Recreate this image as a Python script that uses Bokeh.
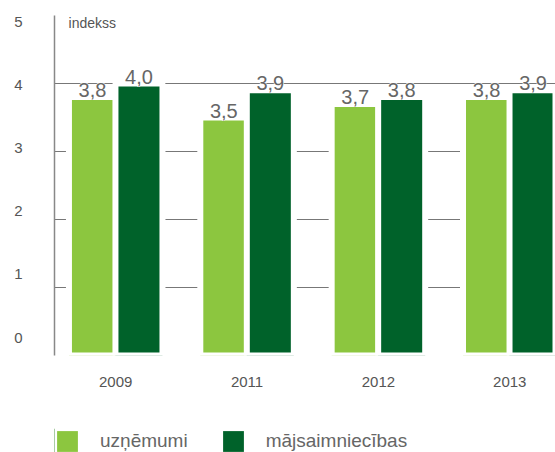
from bokeh.plotting import figure
from bokeh.layouts import column
from bokeh.models import (Range1d, LinearAxis, FixedTicker, Grid, ColumnDataSource,
                          Legend, LegendItem, Label)
from bokeh.transform import dodge
from bokeh.core.properties import value
from bokeh.embed import file_html
from bokeh.resources import INLINE

years = ["2009", "2011", "2012", "2013"]
uznemumi = [3.8, 3.5, 3.7, 3.8]
majsaimniecibas = [4.0, 3.9, 3.8, 3.9]
series_names = ["uzņēmumi", "mājsaimniecības"]
y_ticks = [0, 1, 2, 3, 4, 5]
grid_ticks = [1, 2, 3, 4]

LIGHT = "#8cc63f"
DARK = "#00622a"
TXT = "#555555"
VTXT = "#666666"
FONTNAME = "Liberation Sans"
FONT = value(FONTNAME)

def fmt(v):
    return f"{v:.1f}".replace(".", ",")

src = ColumnDataSource(dict(
    x=list(range(len(years))),
    u=uznemumi,
    m=majsaimniecibas,
    lu=[fmt(v) for v in uznemumi],
    lm=[fmt(v) for v in majsaimniecibas],
))

p = figure(width=555, height=400, x_range=Range1d(-0.466, 3.348), y_range=Range1d(0, 5),
           output_backend="svg", toolbar_location=None, y_axis_location=None,
           min_border_left=54, min_border_top=15, min_border_right=0, min_border_bottom=45)
p.outline_line_color = None
p.xgrid.visible = False
p.ygrid.visible = False
p.background_fill_color = "white"
p.border_fill_color = "white"

p.add_layout(Grid(dimension=1, ticker=FixedTicker(ticks=grid_ticks),
                  grid_line_color="#777777", grid_line_width=1))

p.extra_y_ranges = {"lbl": Range1d(-0.2857, 5.111)}
ax = LinearAxis(y_range_name="lbl", ticker=FixedTicker(ticks=y_ticks),
                major_tick_line_color=None, minor_tick_line_color=None,
                axis_line_color="#888888", axis_line_width=1.5,
                major_label_standoff=26, major_label_text_font_size="15px",
                major_label_text_color=TXT, major_label_text_font=FONTNAME)
p.add_layout(ax, "left")

xa = p.xaxis[0]
xa.ticker = FixedTicker(ticks=list(range(len(years))))
xa.major_label_overrides = {i: y for i, y in enumerate(years)}
xa.axis_line_color = None
xa.major_tick_line_color = None
xa.minor_tick_line_color = None
xa.major_label_standoff = 15
xa.major_label_text_font_size = "15px"
xa.major_label_text_color = TXT
xa.major_label_text_font = FONTNAME

off = 0.177
bw = 0.358
p.vbar(x=dodge("x", -off, range=p.x_range), top="u", bottom=0, width=bw, source=src,
       fill_color=LIGHT, line_color="white", line_width=6)
p.vbar(x=dodge("x", off, range=p.x_range), top="m", bottom=0, width=bw, source=src,
       fill_color=DARK, line_color="white", line_width=6)

for col, lab in (("u", "lu"), ("m", "lm")):
    xx = dodge("x", -off if col == "u" else off, range=p.x_range)
    p.text(x=xx, y=col, text=lab, source=src, text_align="center",
           text_baseline="alphabetic", y_offset=-7, text_font_size="20px",
           text_color="white", text_font=FONT, text_outline_color="white")
    p.text(x=xx, y=col, text=lab, source=src, text_align="center",
           text_baseline="alphabetic", y_offset=-7, text_font_size="20px",
           text_color=VTXT, text_font=FONT)

p.add_layout(Label(x=-0.359, y=4.897, text="indekss", text_baseline="middle",
                   text_font_size="14px", text_color=TXT, text_font=FONTNAME))

# legend strip (swatch renderers sit outside the visible range)
p2 = figure(width=555, height=52, x_range=Range1d(0, 1), y_range=Range1d(0, 1),
            output_backend="svg", toolbar_location=None, x_axis_location=None,
            y_axis_location=None, min_border_left=54, min_border_top=28,
            min_border_right=0, min_border_bottom=0)
p2.outline_line_color = None
p2.xgrid.visible = False
p2.ygrid.visible = False
l1 = p2.vbar(x=[-10], top=[1], width=0.1, fill_color=LIGHT, line_color=None)
l2 = p2.vbar(x=[-10], top=[1], width=0.1, fill_color=DARK, line_color=None)
legend = Legend(items=[LegendItem(label=series_names[0], renderers=[l1]),
                       LegendItem(label=series_names[1], renderers=[l2])],
                orientation="horizontal", location="top_left",
                glyph_width=26, glyph_height=26, label_standoff=20, spacing=32,
                label_text_font_size="19px", label_text_color="#666666",
                label_text_font=FONTNAME,
                border_line_color=None, background_fill_alpha=0, padding=0, margin=0)
p2.add_layout(legend, "center")

open("out.html", "w").write(file_html(column(p, p2, spacing=0), INLINE))
